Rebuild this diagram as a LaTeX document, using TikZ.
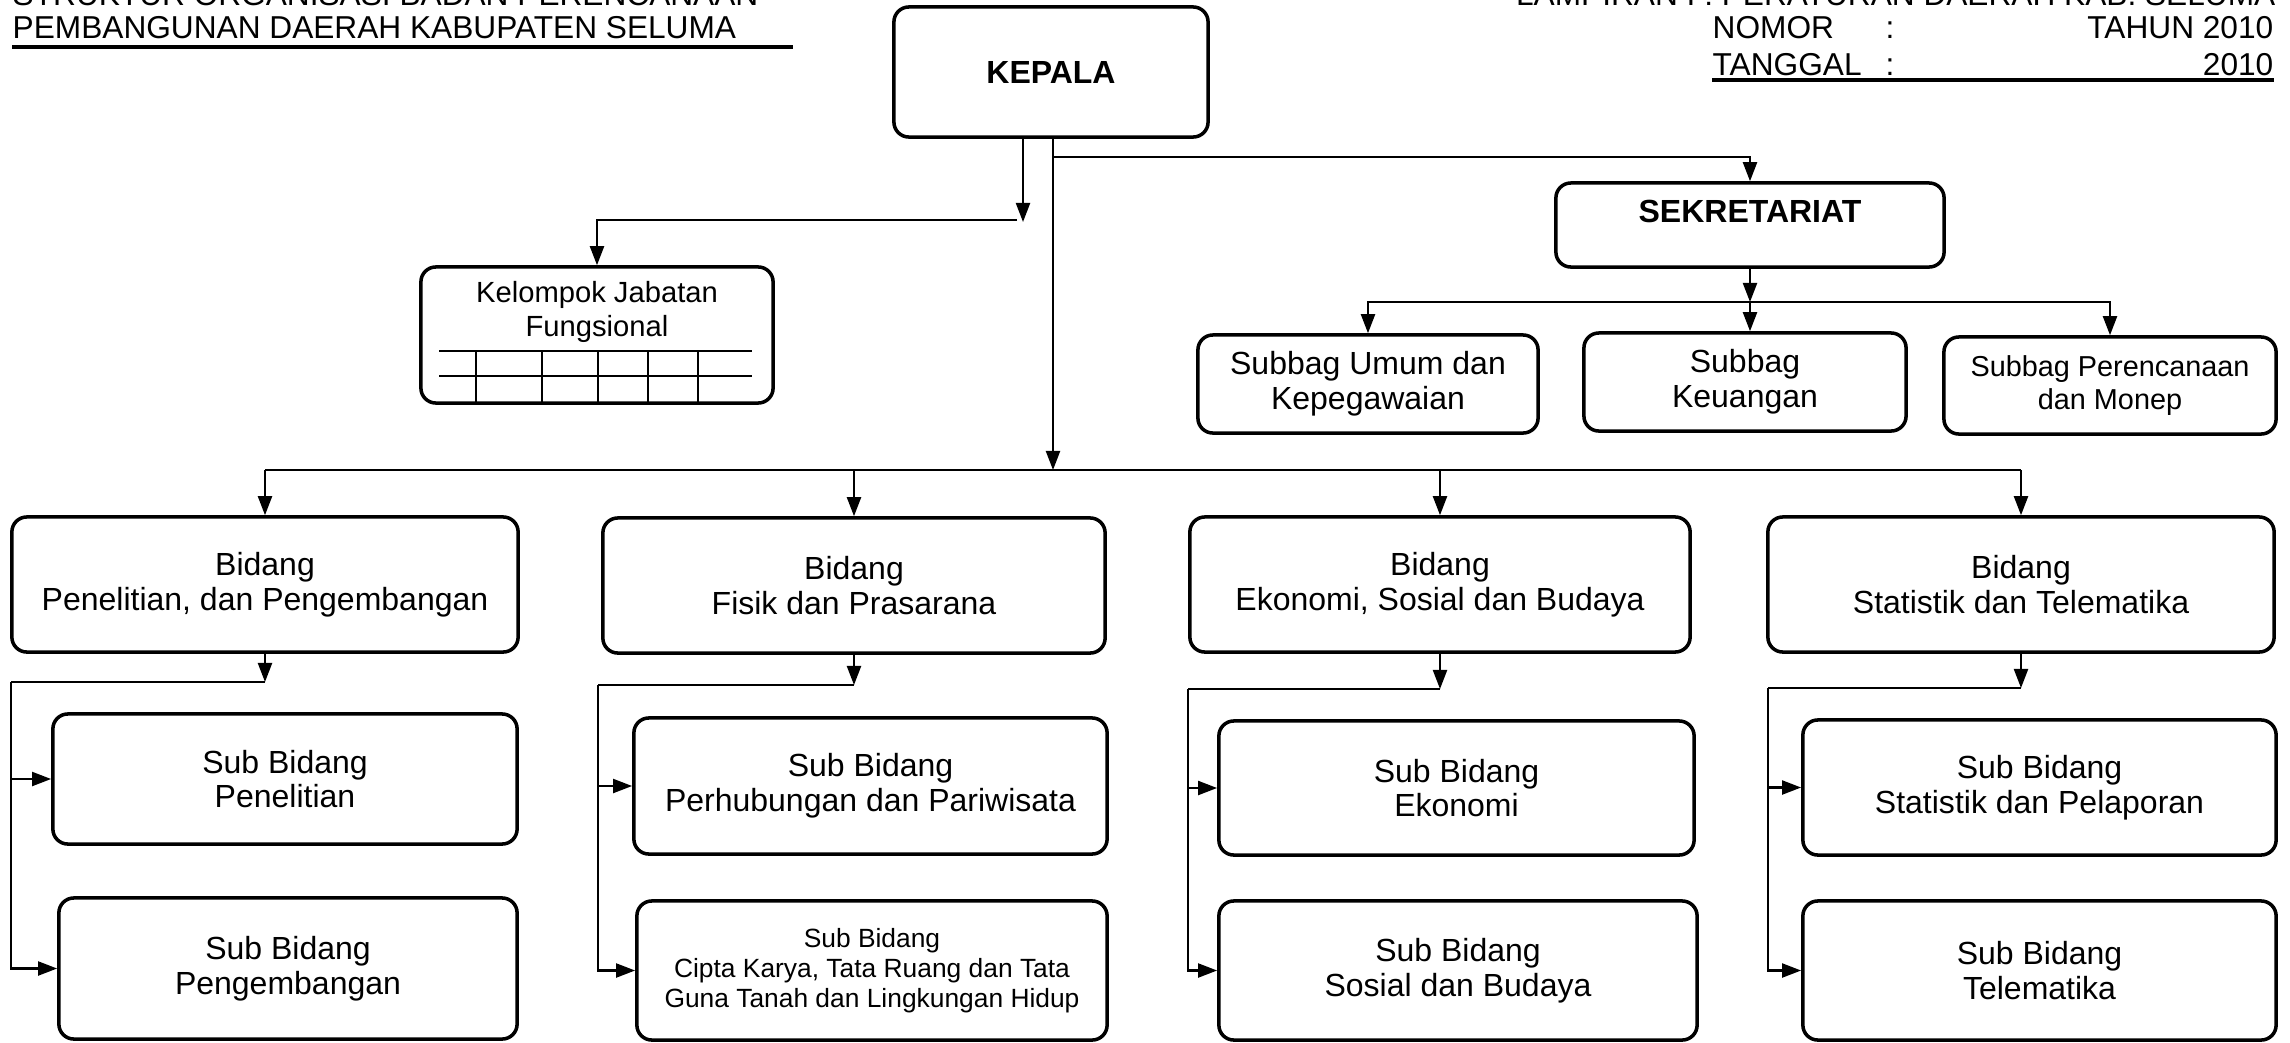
\documentclass[tikz,border=0pt]{standalone}
\usepackage{fontspec}
\setmainfont{Liberation Sans}
\usetikzlibrary{arrows.meta}
\newcommand\fmain{\fontsize{9.1}{9.9}\selectfont}
\newcommand\fbold{\fontsize{9.1}{9.9}\selectfont\bfseries}
\newcommand\fsmall{\fontsize{7.5}{8.5}\selectfont}
\newcommand\fmid{\fontsize{8.2}{9.4}\selectfont}
\newcommand\fkel{\fontsize{8.3}{9.7}\selectfont}
\newcommand\fhdr{\fontsize{9.0}{9.6}\selectfont}
\begin{document}
\begin{tikzpicture}[x=0.01cm,y=-0.01cm,
  bx/.style={draw, line width=1pt, rounded corners=0.15cm, align=center, inner sep=0pt, font=\fmain},
  conn/.style={line width=0.6pt},
  arr/.style={conn, -{Triangle[length=0.19cm,width=0.14cm]}},
  hdr/.style={font=\fhdr, inner sep=0pt},
  grid/.style={line width=0.6pt}]
\useasboundingbox (0,0) rectangle (2290,1042);

% headers
\node[hdr, anchor=base west] (hl1) at (12,5) {STRUKTUR ORGANISASI BADAN PERENCANAAN};
\node[hdr, anchor=base west] (hl2) at (12,38) {PEMBANGUNAN DAERAH KABUPATEN SELUMA};
\draw[line width=0.9pt] (12,47) -- (793,47);
\node[hdr, anchor=base east] (hr0) at (2276,5) {LAMPIRAN I : PERATURAN DAERAH KAB. SELUMA};
\node[hdr, anchor=base west] (hr1) at (1712,38) {NOMOR};
\node[hdr, anchor=base] (hr1c) at (1890,38) {:};
\node[hdr, anchor=base east] (hr1r) at (2274,38) {TAHUN 2010};
\node[hdr, anchor=base west] (hr2) at (1712,75) {TANGGAL};
\node[hdr, anchor=base] (hr2c) at (1890,75) {:};
\node[hdr, anchor=base east] (hr2r) at (2274,75) {2010};
\draw[line width=0.9pt] (1712,80) -- (2274,80);

% top level
\node[bx, minimum width=3.14cm, minimum height=1.30cm, font=\fbold] (kepala) at (1051,72) {KEPALA};
\node[bx, minimum width=3.88cm, minimum height=0.84cm] (sek) at (1750,225) {};
\node[font=\fbold, anchor=base, inner sep=0pt] (sekt) at (1750,222) {SEKRETARIAT};

\node[bx, minimum width=3.52cm, minimum height=1.36cm] (kel) at (597,335) {};
\node[font=\fkel, align=center, inner sep=0pt] (kelt) at (597,312) {Kelompok Jabatan\\Fungsional};
\draw[grid] (439,351) -- (752,351);
\draw[grid] (439,376) -- (752,376);
\foreach \gx in {476,542,598,648,698} \draw[grid] (\gx,351) -- (\gx,403);

\node[bx, minimum width=3.40cm, minimum height=0.98cm] (sub1) at (1368,384) {Subbag Umum dan\\Kepegawaian};
\node[bx, minimum width=3.22cm, minimum height=0.98cm] (sub2) at (1745,382) {Subbag\\Keuangan};
\node[bx, minimum width=3.32cm, minimum height=0.97cm, font=\fmid] (sub3) at (2110,385.5) {Subbag Perencanaan\\dan Monep};

% bidang
\node[bx, minimum width=5.06cm, minimum height=1.35cm] (b1) at (265,584.5) {Bidang\\Penelitian, dan Pengembangan};
\node[bx, minimum width=5.02cm, minimum height=1.35cm] (b2) at (854,585.5) {Bidang\\Fisik dan Prasarana};
\node[bx, minimum width=5.00cm, minimum height=1.35cm] (b3) at (1440,584.5) {Bidang\\Ekonomi, Sosial dan Budaya};
\node[bx, minimum width=5.06cm, minimum height=1.35cm] (b4) at (2021,584.5) {Bidang\\Statistik dan Telematika};

% sub bidang
\node[bx, minimum width=4.64cm, minimum height=1.30cm] (s11) at (285,779) {Sub Bidang\\Penelitian};
\node[bx, minimum width=4.58cm, minimum height=1.41cm] (s12) at (288,968.5) {Sub Bidang\\Pengembangan};
\node[bx, minimum width=4.73cm, minimum height=1.36cm] (s21) at (870.5,786) {Sub Bidang\\Perhubungan dan Pariwisata};
\node[bx, minimum width=4.70cm, minimum height=1.39cm, font=\fsmall] (s22) at (872,970.5) {Sub Bidang\\Cipta Karya, Tata Ruang dan Tata\\Guna Tanah dan Lingkungan Hidup};
\node[bx, minimum width=4.75cm, minimum height=1.34cm] (s31) at (1456.5,788) {Sub Bidang\\Ekonomi};
\node[bx, minimum width=4.78cm, minimum height=1.39cm] (s32) at (1458,970.5) {Sub Bidang\\Sosial dan Budaya};
\node[bx, minimum width=4.73cm, minimum height=1.35cm] (s41) at (2039.5,787.5) {Sub Bidang\\Statistik dan Pelaporan};
\node[bx, minimum width=4.73cm, minimum height=1.39cm] (s42) at (2039.5,970.5) {Sub Bidang\\Telematika};

% connectors from KEPALA
\coordinate (k1) at (1023,222);
\coordinate (k1h) at (1017,220);
\draw[arr] (kepala.south -| k1) -- (k1);
\draw[arr] (k1h) -| (kel.north);
\coordinate (bus) at (1053,470);
\coordinate (sb) at (1053,157);
\draw[arr] (kepala.south -| bus) -- (bus);
\draw[arr] (sb) -| (sek.north);

% sekretariat to subbag
\coordinate (sh) at (1750,302);
\draw[arr] (sek.south) -- (sh);
\draw[arr] (sh) -| (sub1.north);
\draw[arr] (sh) -| (sub3.north);
\draw[arr] (sh) -- (sh |- sub2.north);

% bidang bus
\draw[conn] (b1.north |- bus) -- (b4.north |- bus);
\draw[arr] (b1.north |- bus) -- (b1.north);
\draw[arr] (b2.north |- bus) -- (b2.north);
\draw[arr] (b3.north |- bus) -- (b3.north);
\draw[arr] (b4.north |- bus) -- (b4.north);

% columns
\coordinate (h1) at (11,682);
\draw[arr] (b1.south) -- (b1.south |- h1);
\draw[conn] (b1.south |- h1) -- (h1);
\draw[arr] (h1) |- (s11.west);
\draw[arr] (h1) |- (s12.west);

\coordinate (h2) at (598,685);
\draw[arr] (b2.south) -- (b2.south |- h2);
\draw[conn] (b2.south |- h2) -- (h2);
\draw[arr] (h2) |- (s21.west);
\draw[arr] (h2) |- (s22.west);

\coordinate (h3) at (1188,689);
\draw[arr] (b3.south) -- (b3.south |- h3);
\draw[conn] (b3.south |- h3) -- (h3);
\draw[arr] (h3) |- (s31.west);
\draw[arr] (h3) |- (s32.west);

\coordinate (h4) at (1768,688);
\draw[arr] (b4.south) -- (b4.south |- h4);
\draw[conn] (b4.south |- h4) -- (h4);
\draw[arr] (h4) |- (s41.west);
\draw[arr] (h4) |- (s42.west);
\end{tikzpicture}
\end{document}
